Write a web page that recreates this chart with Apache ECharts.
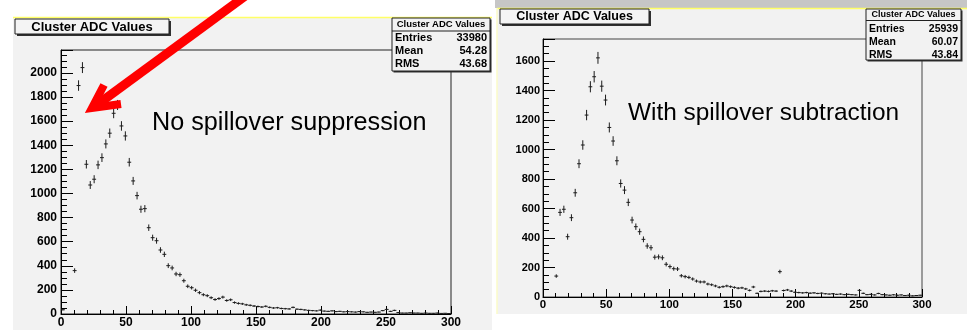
<!DOCTYPE html>
<html>
<head>
<meta charset="utf-8">
<script src="https://cdn.jsdelivr.net/npm/echarts@6/dist/echarts.min.js"></script>
<style>
  html, body { margin: 0; padding: 0; background: #fff; }
  #chart { width: 967px; height: 330px; }
</style>
</head>
<body>
<div id="chart"></div>
<script>
// Histogram binning: 100 bins of width 3 ADC counts over 0..300
const binWidth = 3;
const binCentres = [
  1.5, 4.5, 7.5, 10.5, 13.5, 16.5, 19.5, 22.5, 25.5, 28.5,
  31.5, 34.5, 37.5, 40.5, 43.5, 46.5, 49.5, 52.5, 55.5, 58.5,
  61.5, 64.5, 67.5, 70.5, 73.5, 76.5, 79.5, 82.5, 85.5, 88.5,
  91.5, 94.5, 97.5, 100.5, 103.5, 106.5, 109.5, 112.5, 115.5, 118.5,
  121.5, 124.5, 127.5, 130.5, 133.5, 136.5, 139.5, 142.5, 145.5, 148.5,
  151.5, 154.5, 157.5, 160.5, 163.5, 166.5, 169.5, 172.5, 175.5, 178.5,
  181.5, 184.5, 187.5, 190.5, 193.5, 196.5, 199.5, 202.5, 205.5, 208.5,
  211.5, 214.5, 217.5, 220.5, 223.5, 226.5, 229.5, 232.5, 235.5, 238.5,
  241.5, 244.5, 247.5, 250.5, 253.5, 256.5, 259.5, 262.5, 265.5, 268.5,
  271.5, 274.5, 277.5, 280.5, 283.5, 286.5, 289.5, 292.5, 295.5, 298.5
];

// Cluster ADC counts per bin, without spillover suppression
const countsNoSuppression = [
  35, 0, 0, 360, 1895, 2044, 1242, 1070, 1118, 1237,
  1297, 1411, 1500, 1665, 1734, 1560, 1477, 1259, 1104, 982,
  869, 874, 716, 633, 608, 531, 495, 401, 382, 332,
  326, 276, 230, 218, 197, 177, 160, 152, 135, 120,
  128, 140, 112, 118, 95, 88, 84, 76, 72, 66,
  62, 58, 64, 55, 50, 52, 46, 44, 42, 55,
  40, 38, 34, 30, 28, 26, 32, 24, 22, 26,
  20, 22, 18, 20, 18, 16, 20, 18, 14, 16,
  14, 16, 28, 38, 22, 30, 12, 8, 8, 10,
  8, 8, 6, 8, 6, 6, 8, 5, 6, 4
];

// Cluster ADC counts per bin, with spillover subtraction
const countsSubtracted = [
  0, 0, 0, 142, 574, 595, 409, 538, 707, 904,
  1031, 1234, 1426, 1494, 1622, 1430, 1336, 1150, 1058, 924,
  770, 725, 642, 522, 477, 443, 391, 346, 334, 270,
  272, 266, 222, 206, 192, 190, 144, 138, 133, 122,
  108, 102, 102, 88, 83, 75, 66, 70, 75, 70,
  65, 60, 62, 55, 45, 68, 25, 38, 40, 38,
  42, 40, 172, 44, 48, 40, 32, 30, 28, 30,
  26, 28, 24, 26, 22, 20, 22, 18, 20, 16,
  18, 16, 14, 45, 25, 16, 18, 14, 24, 16,
  14, 12, 15, 12, 14, 10, 12, 8, 10, 12
];

const histTitle = 'Cluster ADC Values';
const statLabels = ['Entries', 'Mean', 'RMS'];
const statsNoSuppression = ['33980', '54.28', '43.68'];
const statsSubtracted = ['25939', '60.07', '43.84'];
const captions = ['No spillover suppression', 'With spillover subtraction'];

const FONT = '"Liberation Sans", Arial, Helvetica, sans-serif';
const PANEL_BG = '#f2f2f2';

// Error-bar crosses: horizontal bar spans the bin, vertical bar is +-sqrt(N)
function crossRenderer(params, api) {
  const x = api.value(0);
  const n = api.value(1);
  if (!(n > 0)) return null;
  const err = Math.sqrt(n);
  const half = binWidth / 2;
  const pL = api.coord([x - half, n]);
  const pR = api.coord([x + half, n]);
  const pT = api.coord([x, n + err]);
  const pB = api.coord([x, Math.max(0, n - err)]);
  const style = { stroke: '#1c1c1c', lineWidth: 1 };
  return {
    type: 'group',
    children: [
      { type: 'line', shape: { x1: pL[0], y1: pL[1], x2: pR[0], y2: pR[1] }, style },
      { type: 'line', shape: { x1: pT[0], y1: pT[1], x2: pB[0], y2: pB[1] }, style }
    ]
  };
}

const plainNumber = v => String(v);

function xAxisFor(gridIndex, fontSize, margin) {
  return {
    gridIndex, type: 'value', min: 0, max: 300, interval: 50,
    axisLine: { show: true, lineStyle: { color: '#000', width: 1 } },
    axisTick: { show: true, inside: true, length: 8, lineStyle: { color: '#000' } },
    minorTick: { show: true, splitNumber: 5, length: 4, lineStyle: { color: '#000' } },
    splitLine: { show: false },
    axisLabel: { fontFamily: FONT, fontWeight: 'bold', fontSize, color: '#000', margin, formatter: plainNumber }
  };
}

function yAxisFor(gridIndex, max, fontSize, margin) {
  return {
    gridIndex, type: 'value', min: 0, max, interval: 200,
    axisLine: { show: true, lineStyle: { color: '#000', width: 1 } },
    axisTick: { show: true, inside: true, length: 12, lineStyle: { color: '#000' } },
    minorTick: { show: true, splitNumber: 4, length: 6, lineStyle: { color: '#000' } },
    splitLine: { show: false },
    axisLabel: { fontFamily: FONT, fontWeight: 'bold', fontSize, color: '#000', margin, showMaxLabel: false, formatter: plainNumber }
  };
}

// Boxed title ("Cluster ADC Values") with a drop shadow
function titleBox(x, y, w, h, fontSize) {
  return [
    { type: 'rect', z: 50, shape: { x: x + 2, y: y + 2, width: w, height: h }, style: { fill: '#303030' } },
    { type: 'rect', z: 51, shape: { x, y, width: w, height: h }, style: { fill: '#f4f4f4', stroke: '#202020', lineWidth: 1 } },
    { type: 'text', z: 52, x: x + w / 2, y: y + h / 2 + 0.5,
      style: { text: histTitle, fill: '#000', font: 'bold ' + fontSize + 'px ' + FONT, align: 'center', verticalAlign: 'middle' } }
  ];
}

// Statistics box: name, entries, mean, RMS
function statsBox(x, y, w, h, dividerY, titleY, rowYs, values, titleSize, rowSize) {
  const els = [
    { type: 'rect', z: 50, shape: { x: x + 1.5, y: y + 1.5, width: w, height: h }, style: { fill: '#303030' } },
    { type: 'rect', z: 51, shape: { x, y, width: w, height: h }, style: { fill: PANEL_BG, stroke: '#202020', lineWidth: 1 } },
    { type: 'line', z: 52, shape: { x1: x, y1: dividerY, x2: x + w, y2: dividerY }, style: { stroke: '#202020', lineWidth: 1 } },
    { type: 'text', z: 52, x: x + w / 2, y: titleY,
      style: { text: histTitle, fill: '#000', font: 'bold ' + titleSize + 'px ' + FONT, align: 'center', verticalAlign: 'middle' } }
  ];
  statLabels.forEach((lab, i) => {
    els.push({ type: 'text', z: 52, x: x + 3, y: rowYs[i],
      style: { text: lab, fill: '#000', font: 'bold ' + rowSize + 'px ' + FONT, align: 'left', verticalAlign: 'middle' } });
    els.push({ type: 'text', z: 52, x: x + w - 3, y: rowYs[i],
      style: { text: values[i], fill: '#000', font: 'bold ' + rowSize + 'px ' + FONT, align: 'right', verticalAlign: 'middle' } });
  });
  return els;
}

const graphics = [
  // left canvas pad
  { type: 'rect', z: -20, shape: { x: 13, y: 17, width: 479, height: 313 }, style: { fill: PANEL_BG } },
  { type: 'line', z: -19, shape: { x1: 13, y1: 17.5, x2: 492, y2: 17.5 }, style: { stroke: '#ffff66', lineWidth: 1.5 } },
  // right canvas pad
  { type: 'rect', z: -20, shape: { x: 495, y: 0, width: 472, height: 8 }, style: { fill: '#c6c6c6' } },
  { type: 'rect', z: -20, shape: { x: 497, y: 8, width: 470, height: 306 }, style: { fill: PANEL_BG } },
  { type: 'line', z: -19, shape: { x1: 497, y1: 8.5, x2: 967, y2: 8.5 }, style: { stroke: '#ffff66', lineWidth: 1.5 } },
  { type: 'line', z: -19, shape: { x1: 497, y1: 8, x2: 497, y2: 314 }, style: { stroke: '#fbfbc8', lineWidth: 1.5 } },

  ...titleBox(15, 19, 154, 15, 13),
  ...titleBox(500, 9, 149, 15, 12.5),
  ...statsBox(392, 18, 98, 53, 31, 24.5, [38, 51, 64], statsNoSuppression, 9.5, 11),
  ...statsBox(866, 9, 95, 51, 20.5, 15, [29, 42.5, 55.5], statsSubtracted, 9, 10.5),

  // captions
  { type: 'text', z: 30, x: 152, y: 123, style: { text: captions[0], fill: '#000', font: '25.2px ' + FONT, align: 'left', verticalAlign: 'middle' } },
  { type: 'text', z: 30, x: 628, y: 113, style: { text: captions[1], fill: '#000', font: '24.4px ' + FONT, align: 'left', verticalAlign: 'middle' } },

  // red pointer arrow
  { type: 'polyline', z: 60, shape: { points: [[248, -6], [94, 107]] }, style: { stroke: '#ff0000', lineWidth: 9, lineCap: 'butt', fill: null } },
  { type: 'polyline', z: 60, shape: { points: [[104, 85], [92, 108], [121, 104]] }, style: { stroke: '#ff0000', lineWidth: 8, lineJoin: 'miter', lineCap: 'butt', fill: null } }
];

const chart = echarts.init(document.getElementById('chart'), null, { renderer: 'canvas' });
chart.setOption({
  backgroundColor: '#ffffff',
  animation: false,
  grid: [
    { left: 61, top: 50, width: 390, height: 264, show: true, backgroundColor: PANEL_BG, borderColor: '#222', borderWidth: 1, containLabel: false },
    { left: 543, top: 39, width: 379, height: 258, show: true, backgroundColor: PANEL_BG, borderColor: '#444', borderWidth: 1, containLabel: false }
  ],
  xAxis: [xAxisFor(0, 12, 3), xAxisFor(1, 11.5, 2)],
  yAxis: [yAxisFor(0, 2190, 12, 4), yAxisFor(1, 1750, 11, 3)],
  series: [
    { type: 'custom', name: captions[0], xAxisIndex: 0, yAxisIndex: 0, renderItem: crossRenderer,
      data: binCentres.map((x, i) => [x, countsNoSuppression[i]]), clip: true },
    { type: 'custom', name: captions[1], xAxisIndex: 1, yAxisIndex: 1, renderItem: crossRenderer,
      data: binCentres.map((x, i) => [x, countsSubtracted[i]]), clip: true }
  ],
  graphic: graphics
});
</script>
</body>
</html>
